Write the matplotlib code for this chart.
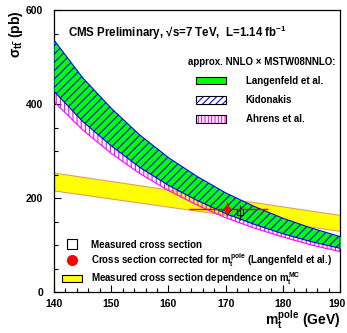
import matplotlib
matplotlib.use('Agg')
import matplotlib.pyplot as plt
from matplotlib.patches import Patch
from matplotlib.lines import Line2D
from matplotlib.ticker import MultipleLocator
from matplotlib.transforms import ScaledTranslation

# theory bands (approx. NNLO x MSTW08NNLO)
mass = [140, 145, 150, 155, 160, 165, 170, 175, 180, 185, 190]
lang_up = [535, 455, 390, 333, 285, 245, 210, 181, 156, 135, 117]
lang_lo = [428, 364, 312, 266, 228, 196, 168, 145, 125, 108, 94]
kid_up = [536, 456, 391, 334, 286, 246, 211, 182, 157, 136, 118]
kid_lo = [427, 363, 311, 265, 227, 195, 167, 144, 124, 107, 93]
ahr_up = [500, 428, 366, 313, 268, 230, 197, 169, 145, 125, 108]
ahr_lo = [405, 345, 295, 252, 216, 185, 158, 136, 117, 100, 86]

# measured cross section dependence on m_t^MC
mc_mass = [140, 190]
dep_up = [254, 164]
dep_lo = [216, 130]

# measured point and pole-mass corrected point
meas_m, meas_xs, meas_err = 172.5, 169.9, 16
pole_m, pole_xs = 170.3, 176.7
pole_m_lo, pole_m_hi = 6.7, 7.1
pole_xs_err = 14

x_ticks = [140, 150, 160, 170, 180, 190]

plt.rcParams['font.family'] = ['Liberation Sans', 'DejaVu Sans']
plt.rcParams['font.weight'] = 'bold'
plt.rcParams['mathtext.fontset'] = 'custom'
plt.rcParams['mathtext.rm'] = 'Liberation Sans:bold'
plt.rcParams['mathtext.it'] = 'Liberation Sans:bold'
plt.rcParams['mathtext.bf'] = 'Liberation Sans:bold'
plt.rcParams['mathtext.sf'] = 'Liberation Sans:bold'
plt.rcParams['hatch.linewidth'] = 0.8

fig = plt.figure(figsize=(3.47, 3.33), dpi=100)
ax = fig.add_axes([54 / 347, 1 - 292 / 333, 286 / 347, 282 / 333])

# bands
ax.fill_between(mc_mass, dep_lo, dep_up, facecolor='#ffff00', edgecolor='#e0a060', lw=0.8, zorder=1)
ax.fill_between(mass, ahr_lo, ahr_up, facecolor='none', edgecolor='#ff00ff', hatch='||||', lw=0.8, zorder=2)
ax.fill_between(mass, lang_lo, lang_up, facecolor='#00ff00', edgecolor='#00ff00', lw=0.5, zorder=3)
ax.fill_between(mass, kid_lo, kid_up, facecolor='none', edgecolor='#0000ff', hatch='////', lw=0.8, zorder=4)

# points
ax.errorbar([meas_m], [meas_xs], yerr=meas_err, fmt='s', mfc='none', mec='black',
            ecolor='black', ms=4.5, mew=0.8, elinewidth=0.8, capsize=0, zorder=5)
ax.errorbar([pole_m], [pole_xs], xerr=[[pole_m_lo], [pole_m_hi]], yerr=pole_xs_err, fmt='o',
            color='red', ms=4, elinewidth=1, capsize=0, zorder=6)

ax.set_xlim(140, 190)
ax.set_ylim(0, 600)
ax.set_xticks(x_ticks)
ax.xaxis.set_minor_locator(MultipleLocator(2))
ax.yaxis.set_major_locator(MultipleLocator(200))
ax.yaxis.set_minor_locator(MultipleLocator(50))
ax.tick_params(which='both', direction='in', top=False, right=False, width=0.8, labelsize=7.5)
ax.tick_params(which='major', length=5)
ax.tick_params(which='minor', length=3)
ax.tick_params(axis='y', pad=8)
ax.tick_params(axis='x', pad=5)
for s in ax.spines.values():
    s.set_linewidth(0.9)

# keep the last x label inside the canvas
last = ax.xaxis.get_major_ticks()[-1].label1
last.set_transform(last.get_transform() + ScaledTranslation(-3 / 100, 0, fig.dpi_scale_trans))

# texts
ax.text(0.049, 0.918, 'CMS Preliminary, \u221As=7 TeV,  L=1.14 fb$^{-1}$', fontsize=8.3,
        transform=ax.transAxes, va='center', ha='left')
ax.text(0.4685, 0.8156, 'approx. NNLO \u00d7 MSTW08NNLO:', fontsize=7,
        transform=ax.transAxes, va='center', ha='left')
fig.text(340 / 347, 1 - 326 / 333, '$m_t^{pole}$ (GeV)', fontsize=10, ha='right', va='baseline')
fig.text(16 / 347, 1 - 10 / 333, r'$\sigma_{t\bar{t}}$ (pb)', fontsize=10, rotation=90,
         ha='center', va='top')

# theory legend
box = dict(facecolor='none', edgecolor='black', lw=0.8)
h_lang = Patch(facecolor='#00ff00', edgecolor='black', lw=0.8)
h_kid = (Patch(facecolor='white', edgecolor='#0000ff', hatch='/////', lw=0), Patch(**box))
h_ahr = (Patch(facecolor='white', edgecolor='#ff00ff', hatch='|||||', lw=0), Patch(**box))
leg1 = ax.legend([h_lang, h_kid, h_ahr], ['Langenfeld et al.', 'Kidonakis', 'Ahrens et al.'],
                 loc='upper left', bbox_to_anchor=((196 - 54) / 286, (292 - 76) / 282),
                 frameon=False, borderpad=0, borderaxespad=0, fontsize=7,
                 handlelength=3.1, handleheight=0.82, handletextpad=2.0, labelspacing=0.95)
ax.add_artist(leg1)

# measurement legend
h_meas = Line2D([], [], ls='none', marker='s', ms=7, mfc='none', mec='black', mew=0.8)
h_pole = Line2D([], [], ls='none', marker='o', ms=7, color='red')
h_dep = Patch(facecolor='#ffff00', edgecolor='black', lw=0.8)
ax.legend([h_meas, h_pole, h_dep],
          ['Measured cross section',
           'Cross section corrected for $m_t^{pole}$ (Langenfeld et al.)',
           'Measured cross section dependence on $m_t^{MC}$'],
          loc='upper left', bbox_to_anchor=((62 - 54) / 286, (292 - 240) / 282),
          frameon=False, borderpad=0, borderaxespad=0, fontsize=7,
          handlelength=2.06, handleheight=0.82, handletextpad=0.93, labelspacing=0.12)

fig.savefig('out.png', dpi=100)
